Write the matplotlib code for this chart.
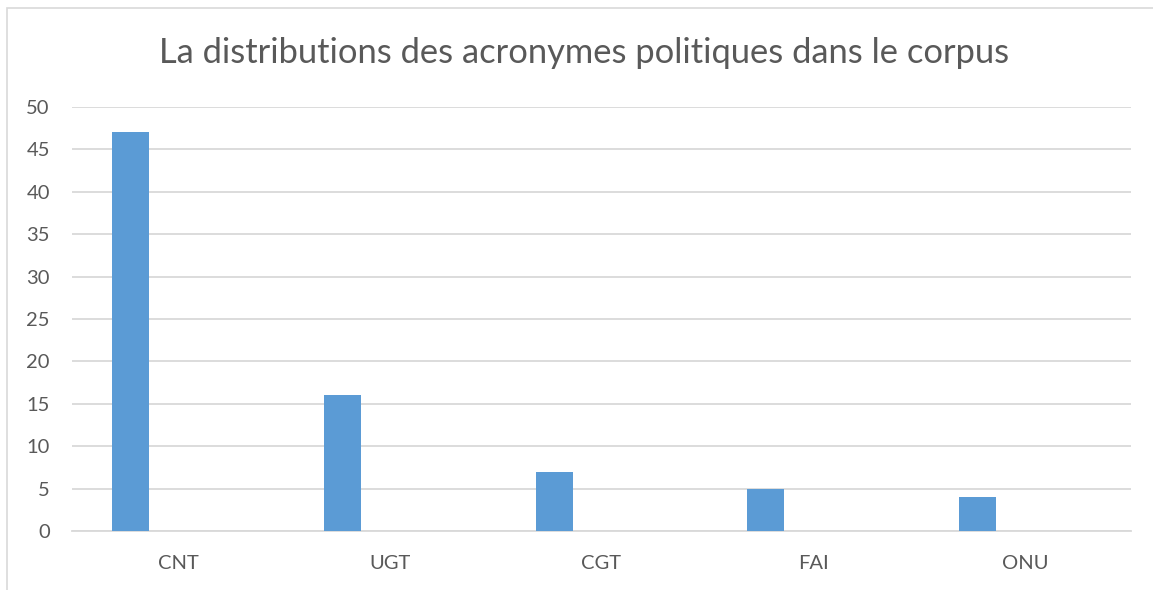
import matplotlib
matplotlib.use("Agg")
import matplotlib.pyplot as plt
from matplotlib.patches import Rectangle
import numpy as np

categories = ["CNT", "UGT", "CGT", "FAI", "ONU"]
values = [47, 16, 7, 5, 4]
yticks = [0, 5, 10, 15, 20, 25, 30, 35, 40, 45, 50]
title = "La distributions des acronymes politiques dans le corpus"

plt.rcParams['font.family'] = ['Lato', 'DejaVu Sans']
W, H = 1153, 590
fig = plt.figure(figsize=(W/100, H/100), dpi=100)
fig.patch.set_facecolor("white")

# chart border (right edge lies outside the image)
fig.patches.append(Rectangle((7/W, -0.01), 1.0, 1 - 8/H + 0.01,
                             transform=fig.transFigure, fill=False,
                             edgecolor="#d9d9d9", linewidth=1.2))

ax = fig.add_axes([72/W, 1 - 531/H, (1131-72)/W, (531-107)/H])
x = np.arange(len(categories))
ax.bar(x - 0.224, values, width=0.175, color="#5B9BD5", zorder=3)
ax.set_xlim(-0.5, len(categories) - 0.5)
ax.set_ylim(0, 50)
ax.set_yticks(yticks)
ax.set_yticklabels([str(t) for t in yticks])
ax.set_xticks(x)
ax.set_xticklabels(categories)
ax.yaxis.grid(True, color="#d9d9d9", linewidth=1.3, zorder=0)
ax.set_axisbelow(True)
for s in ["top", "right", "left"]:
    ax.spines[s].set_visible(False)
ax.spines["bottom"].set_color("#d9d9d9")
ax.spines["bottom"].set_linewidth(1.3)
ax.tick_params(axis="both", length=0, colors="#595959", labelsize=14.5)
ax.tick_params(axis="y", pad=16)
ax.tick_params(axis="x", pad=17)

fig.text(584/W, 1 - 53/H, title, ha="center", va="center",
         fontsize=24.8, color="#595959")

fig.savefig("out.png", dpi=100, facecolor="white")
